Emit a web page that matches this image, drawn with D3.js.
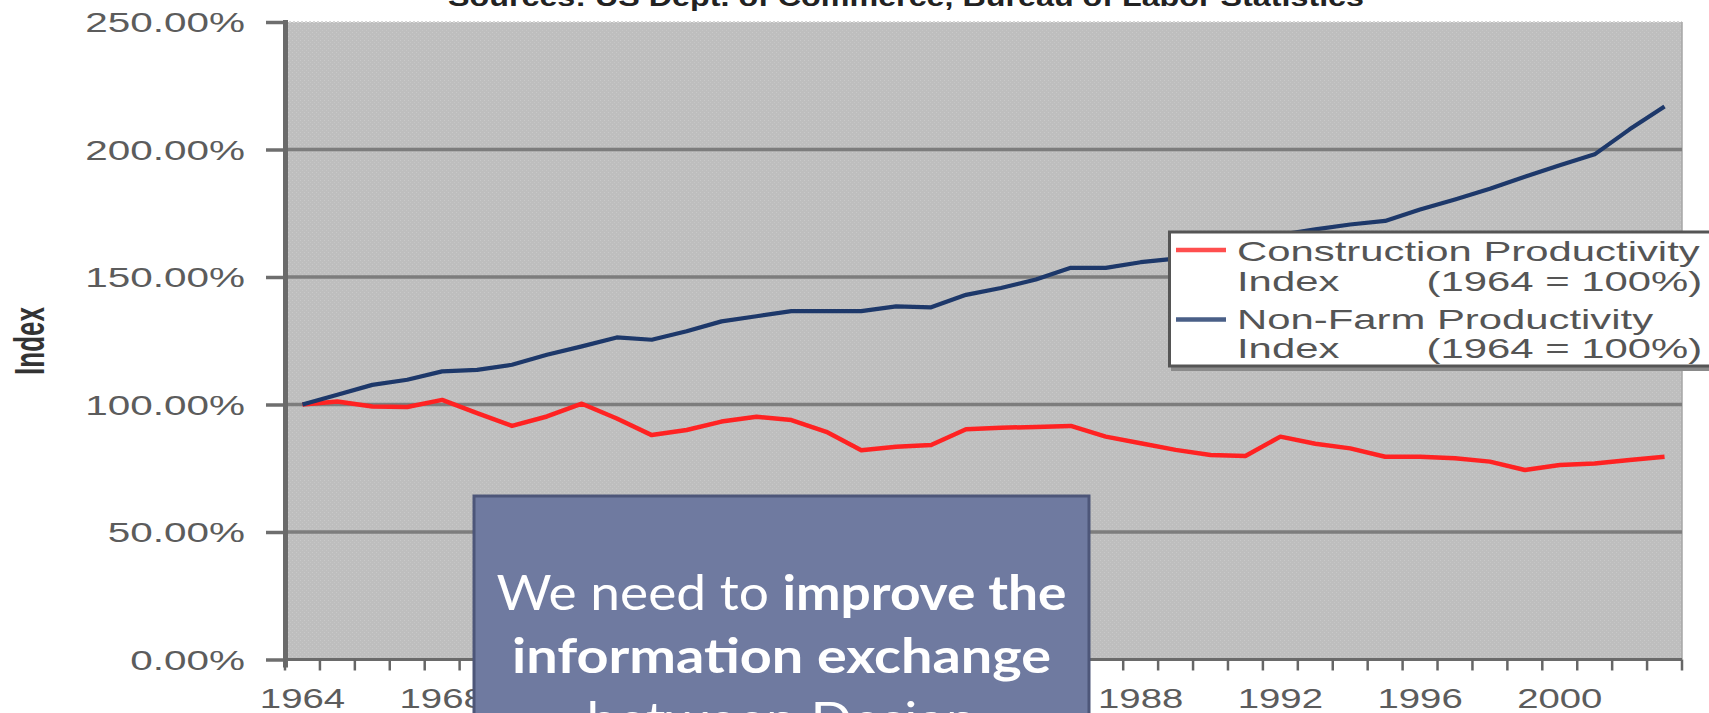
<!DOCTYPE html>
<html><head><meta charset="utf-8">
<script src="https://cdn.jsdelivr.net/npm/d3@7/dist/d3.min.js"></script>
<style>
html,body{margin:0;padding:0;background:#fff;overflow:hidden}
svg{display:block}
</style></head><body>
<svg id="chart" width="1709" height="713"></svg>
<script>
// ---------- data ----------
const years = [1964,1965,1966,1967,1968,1969,1970,1971,1972,1973,
               1974,1975,1976,1977,1978,1979,1980,1981,1982,1983,
               1984,1985,1986,1987,1988,1989,1990,1991,1992,1993,
               1994,1995,1996,1997,1998,1999,2000,2001,2002,2003];
const construction = [100,101.2,99.2,99,101.8,96.6,91.6,95.3,100.3,94.5,
                      88,90,93.3,95.2,93.9,89.3,82.1,83.4,84.1,90.3,
                      90.9,91.2,91.6,87.4,84.8,82.2,80.2,79.8,87.4,84.6,
                      82.8,79.5,79.5,78.9,77.6,74.3,76.3,76.9,78.2,79.5];
const nonFarm = [100,103.8,107.7,109.7,113,113.6,115.6,119.5,122.8,126.3,
                 125.4,128.7,132.6,134.6,136.6,136.6,136.6,138.5,138.1,143,
                 145.7,149,153.6,153.6,155.8,157.2,160.5,163.5,166.5,168.7,
                 170.6,172,176.5,180.4,184.6,189.3,193.8,198.1,207.9,216.9];
const yTicks = [0,50,100,150,200,250];
const xLabelYears = [1964,1968,1972,1976,1980,1984,1988,1992,1996,2000];
const seriesNames = ["Construction Productivity", "Non-Farm Productivity"];
const seriesSub = ["Index", "(1964 = 100%)"];
const titleText = "Sources: US Dept. of Commerce, Bureau of Labor Statistics";
const yTitle = "Index";
const boxLines = [
  [{t:"We need to ", b:false},{t:"improve the", b:true}],
  [{t:"information exchange", b:true}],
  [{t:"between Design", b:false}]
];

// ---------- layout ----------
const svg = d3.select("#chart");
const L = 285, R = 1682, T = 22, B = 659.5;
const RED = "#ff2222", BLUE = "#1d386a";
const AXF = "'Liberation Sans', Arial, sans-serif";

const x = d3.scaleBand().domain(years).range([L, R]).paddingInner(0).paddingOuter(0);
const y = d3.scaleLinear().domain([0, 250]).range([B, T]);

// pattern for stippled plot area
const defs = svg.append("defs");
const pat = defs.append("pattern").attr("id","stip").attr("width",4).attr("height",4)
  .attr("patternUnits","userSpaceOnUse");
pat.append("rect").attr("width",4).attr("height",4).attr("fill","#bebebe");
pat.append("rect").attr("x",0).attr("y",0).attr("width",1).attr("height",1).attr("fill","#c9c9c9");
pat.append("rect").attr("x",2).attr("y",2).attr("width",1).attr("height",1).attr("fill","#c6c6c6");

// title (top, clipped by page edge)
svg.append("text").attr("x", 448).attr("y", 6)
  .attr("font-family", AXF).attr("font-weight", "bold").attr("font-size", 25)
  .attr("fill", "#222").attr("textLength", 916).attr("lengthAdjust", "spacingAndGlyphs")
  .text(titleText);

// plot area
svg.append("rect").attr("x", L).attr("y", y(250)).attr("width", R - L).attr("height", y(0) - y(250))
  .attr("fill", "url(#stip)");
svg.append("line").attr("x1", L).attr("x2", R).attr("y1", y(250)).attr("y2", y(250))
  .attr("stroke", "#d6d6d6").attr("stroke-width", 2).attr("stroke-dasharray", "2,2");
svg.append("line").attr("x1", R).attr("x2", R).attr("y1", y(250)).attr("y2", y(0))
  .attr("stroke", "#a6a6a6").attr("stroke-width", 1.5);

// gridlines
svg.append("g").selectAll("line").data(yTicks.filter(d => d > 0 && d < 250)).join("line")
  .attr("x1", L).attr("x2", R).attr("y1", d => y(d)).attr("y2", d => y(d))
  .attr("stroke", "#7d7d7d").attr("stroke-width", 3.5);

// y axis
const yAxis = svg.append("g").attr("transform", `translate(${L},0)`)
  .call(d3.axisLeft(y).tickValues(yTicks).tickSize(19).tickPadding(0)
    .tickFormat(d => d.toFixed(2) + "%"));
yAxis.select(".domain").remove();
yAxis.selectAll(".tick line").attr("stroke", "#6e6e6e").attr("stroke-width", 3.5);
yAxis.selectAll(".tick text")
  .attr("x", 0).attr("dy", "0.36em")
  .attr("transform", "translate(-40,0) scale(1.5,1)")
  .attr("font-family", AXF).attr("font-size", 27).attr("fill", "#5c5c5c");
svg.append("line").attr("x1", L + 0.5).attr("x2", L + 0.5).attr("y1", y(250) - 2).attr("y2", y(0) + 8)
  .attr("stroke", "#6a6a6a").attr("stroke-width", 5);

// x axis baseline
svg.append("line").attr("x1", L).attr("x2", R).attr("y1", y(0)).attr("y2", y(0))
  .attr("stroke", "#6a6a6a").attr("stroke-width", 3);
const bounds = years.map(d => x(d)).concat([x(years[years.length-1]) + x.bandwidth()]);
svg.append("g").selectAll("line").data(bounds).join("line")
  .attr("x1", d => d).attr("x2", d => d).attr("y1", y(0)).attr("y2", y(0) + 11)
  .attr("stroke", "#666").attr("stroke-width", 2.5);
const xAxis = svg.append("g").attr("transform", `translate(0,${B})`)
  .call(d3.axisBottom(x).tickValues(xLabelYears).tickSize(0).tickPadding(0));
xAxis.select(".domain").remove();
xAxis.selectAll(".tick text")
  .attr("y", 0).attr("dy", 0)
  .attr("transform", "translate(0,48.5) scale(1.42,1)")
  .attr("font-family", AXF).attr("font-size", 27).attr("fill", "#5c5c5c");

// y title
svg.append("text")
  .attr("transform", "translate(29.5,341) rotate(-90) scale(1,1.6)")
  .attr("text-anchor", "middle").attr("dy", "0.36em")
  .attr("font-family", AXF).attr("font-weight", "bold").attr("font-size", 26)
  .attr("fill", "#333").text(yTitle);

// lines
const line = d3.line().x((d, i) => x(years[i]) + x.bandwidth() / 2).y(d => y(d));
svg.append("path").datum(construction).attr("d", line)
  .attr("fill", "none").attr("stroke", RED).attr("stroke-width", 4.5).attr("stroke-linejoin", "round");
svg.append("path").datum(nonFarm).attr("d", line)
  .attr("fill", "none").attr("stroke", BLUE).attr("stroke-width", 4.2).attr("stroke-linejoin", "round");

// legend
const lg = svg.append("g");
lg.append("rect").attr("x", 1171).attr("y", 234).attr("width", 560).attr("height", 137).attr("fill", "#8a8a8a");
lg.append("rect").attr("x", 1169.5).attr("y", 232).attr("width", 560).attr("height", 134)
  .attr("fill", "#fff").attr("stroke", "#555").attr("stroke-width", 3);
const legColors = [RED, BLUE];
const legY = [250, 319.5];
const legBase = [261, 328.5];
legColors.forEach((c, i) => {
  lg.append("line").attr("x1", 1176).attr("x2", 1226).attr("y1", legY[i]).attr("y2", legY[i])
    .attr("stroke", c).attr("stroke-width", 4.5).attr("opacity", 0.8);
  const t1 = lg.append("text").attr("transform", `translate(1237,${legBase[i]}) scale(1.55,1)`)
    .attr("font-family", AXF).attr("font-size", 27).attr("fill", "#555");
  t1.append("tspan").attr("x", 0).text(seriesNames[i]);
  const t2 = lg.append("text").attr("transform", `translate(1237,${legBase[i] + 29.5}) scale(1.55,1)`)
    .attr("font-family", AXF).attr("font-size", 27).attr("fill", "#555");
  t2.append("tspan").attr("x", 0).text(seriesSub[0]);
  t2.append("tspan").attr("x", (1415 - 1237) / 1.55).text(" " + seriesSub[1]);
});

// overlay text box
const bx = svg.append("g");
bx.append("rect").attr("x", 474).attr("y", 496).attr("width", 615).attr("height", 260)
  .attr("fill", "#6f7aa0").attr("stroke", "#4d5679").attr("stroke-width", 3);
const boxBase = [610, 673.3, 737];
const boxLen = [570, 539, 390];
boxLines.forEach((ln, i) => {
  const t = bx.append("text").attr("x", 781.5).attr("y", boxBase[i]).attr("text-anchor", "middle")
    .attr("font-family", "Lato, 'Open Sans', sans-serif").attr("font-size", 48).attr("fill", "#fff");
  if (boxLen[i]) t.attr("textLength", boxLen[i]).attr("lengthAdjust", "spacingAndGlyphs");
  ln.forEach(p => t.append("tspan").attr("font-weight", p.b ? 700 : 400).text(p.t));
});
</script>
</body></html>
